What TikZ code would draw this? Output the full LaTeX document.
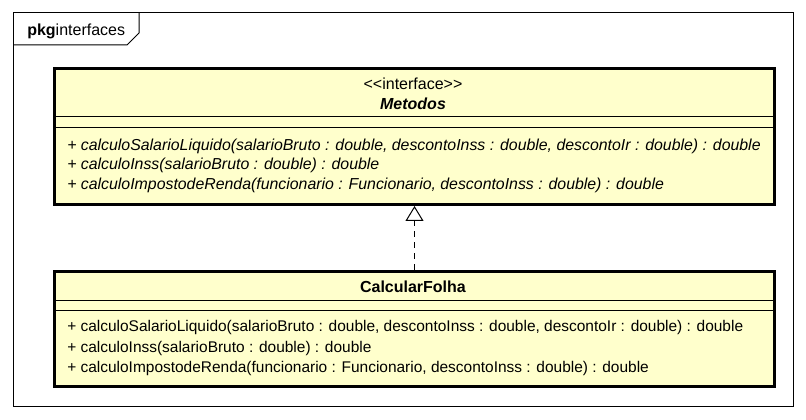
\documentclass[tikz,border=0pt]{standalone}
\usepackage{fontspec}
\setmainfont{Liberation Sans}
\usetikzlibrary{arrows.meta}
\definecolor{classfill}{HTML}{FFFFCC}
\tikzset{
  pkgframe/.style={draw=black, line width=0.75pt},
  classbox/.style={draw=black, fill=classfill, line width=2.25pt, anchor=north west, inner sep=0pt, minimum width=540pt},
  sepline/.style={draw=black, line width=0.75pt},
  txt/.style={inner sep=0pt, font=\fontsize{12}{14}\selectfont},
  member/.style={inner sep=0pt, anchor=west, font=\fontsize{11.6}{14}\selectfont},
  imember/.style={inner sep=0pt, anchor=west, font=\fontsize{11.9}{14}\selectfont\itshape},
  realize/.style={draw=black, line width=0.75pt, dash pattern=on 4.5pt off 3.75pt, -{Triangle[open, length=11.25pt, width=13.5pt, line width=0.75pt]}}
}
\begin{document}
\begin{tikzpicture}[x=0.75pt, y=-0.75pt]
\useasboundingbox (0,0) rectangle (806,420);
% package frame
\draw[pkgframe] (13,13) rectangle (793,406);
\draw[pkgframe] (13,45) -- (127,45) -- (139,33) -- (139,13);
\node[txt, anchor=west] (pkglabel) at (27,31) {\textbf{pkg}interfaces};
% interface Metodos
\node[classbox, minimum height=102pt] (metodos) at (53,67) {};
\draw[sepline] (metodos.west |- 0,117) -- (metodos.east |- 0,117);
\draw[sepline] (metodos.west |- 0,128) -- (metodos.east |- 0,128);
\node[txt] (stereo) at (413,84) {<{}<interface>{}>};
\node[txt] (mname) at (413,104) {\textbf{\textit{Metodos}}};
\node[imember] (m1) at (67,146) {+ calculoSalarioLiquido(salarioBruto : double, descontoInss : double, descontoIr : double) : double};
\node[imember] (m2) at (67,165) {+ calculoInss(salarioBruto : double) : double};
\node[imember] (m3) at (67,185) {+ calculoImpostodeRenda(funcionario : Funcionario, descontoInss : double) : double};
% class CalcularFolha
\node[classbox, minimum height=86.25pt] (calc) at (53,270) {};
\draw[sepline] (calc.west |- 0,300.5) -- (calc.east |- 0,300.5);
\draw[sepline] (calc.west |- 0,310.5) -- (calc.east |- 0,310.5);
\node[txt] (cname) at (413,287) {\textbf{CalcularFolha}};
\node[member] (c1) at (67,328) {+ calculoSalarioLiquido(salarioBruto : double, descontoInss : double, descontoIr : double) : double};
\node[member] (c2) at (67,348) {+ calculoInss(salarioBruto : double) : double};
\node[member] (c3) at (67,368) {+ calculoImpostodeRenda(funcionario : Funcionario, descontoInss : double) : double};
% realization
\draw[realize] (calc.north) -- (metodos.south);
\end{tikzpicture}
\end{document}
